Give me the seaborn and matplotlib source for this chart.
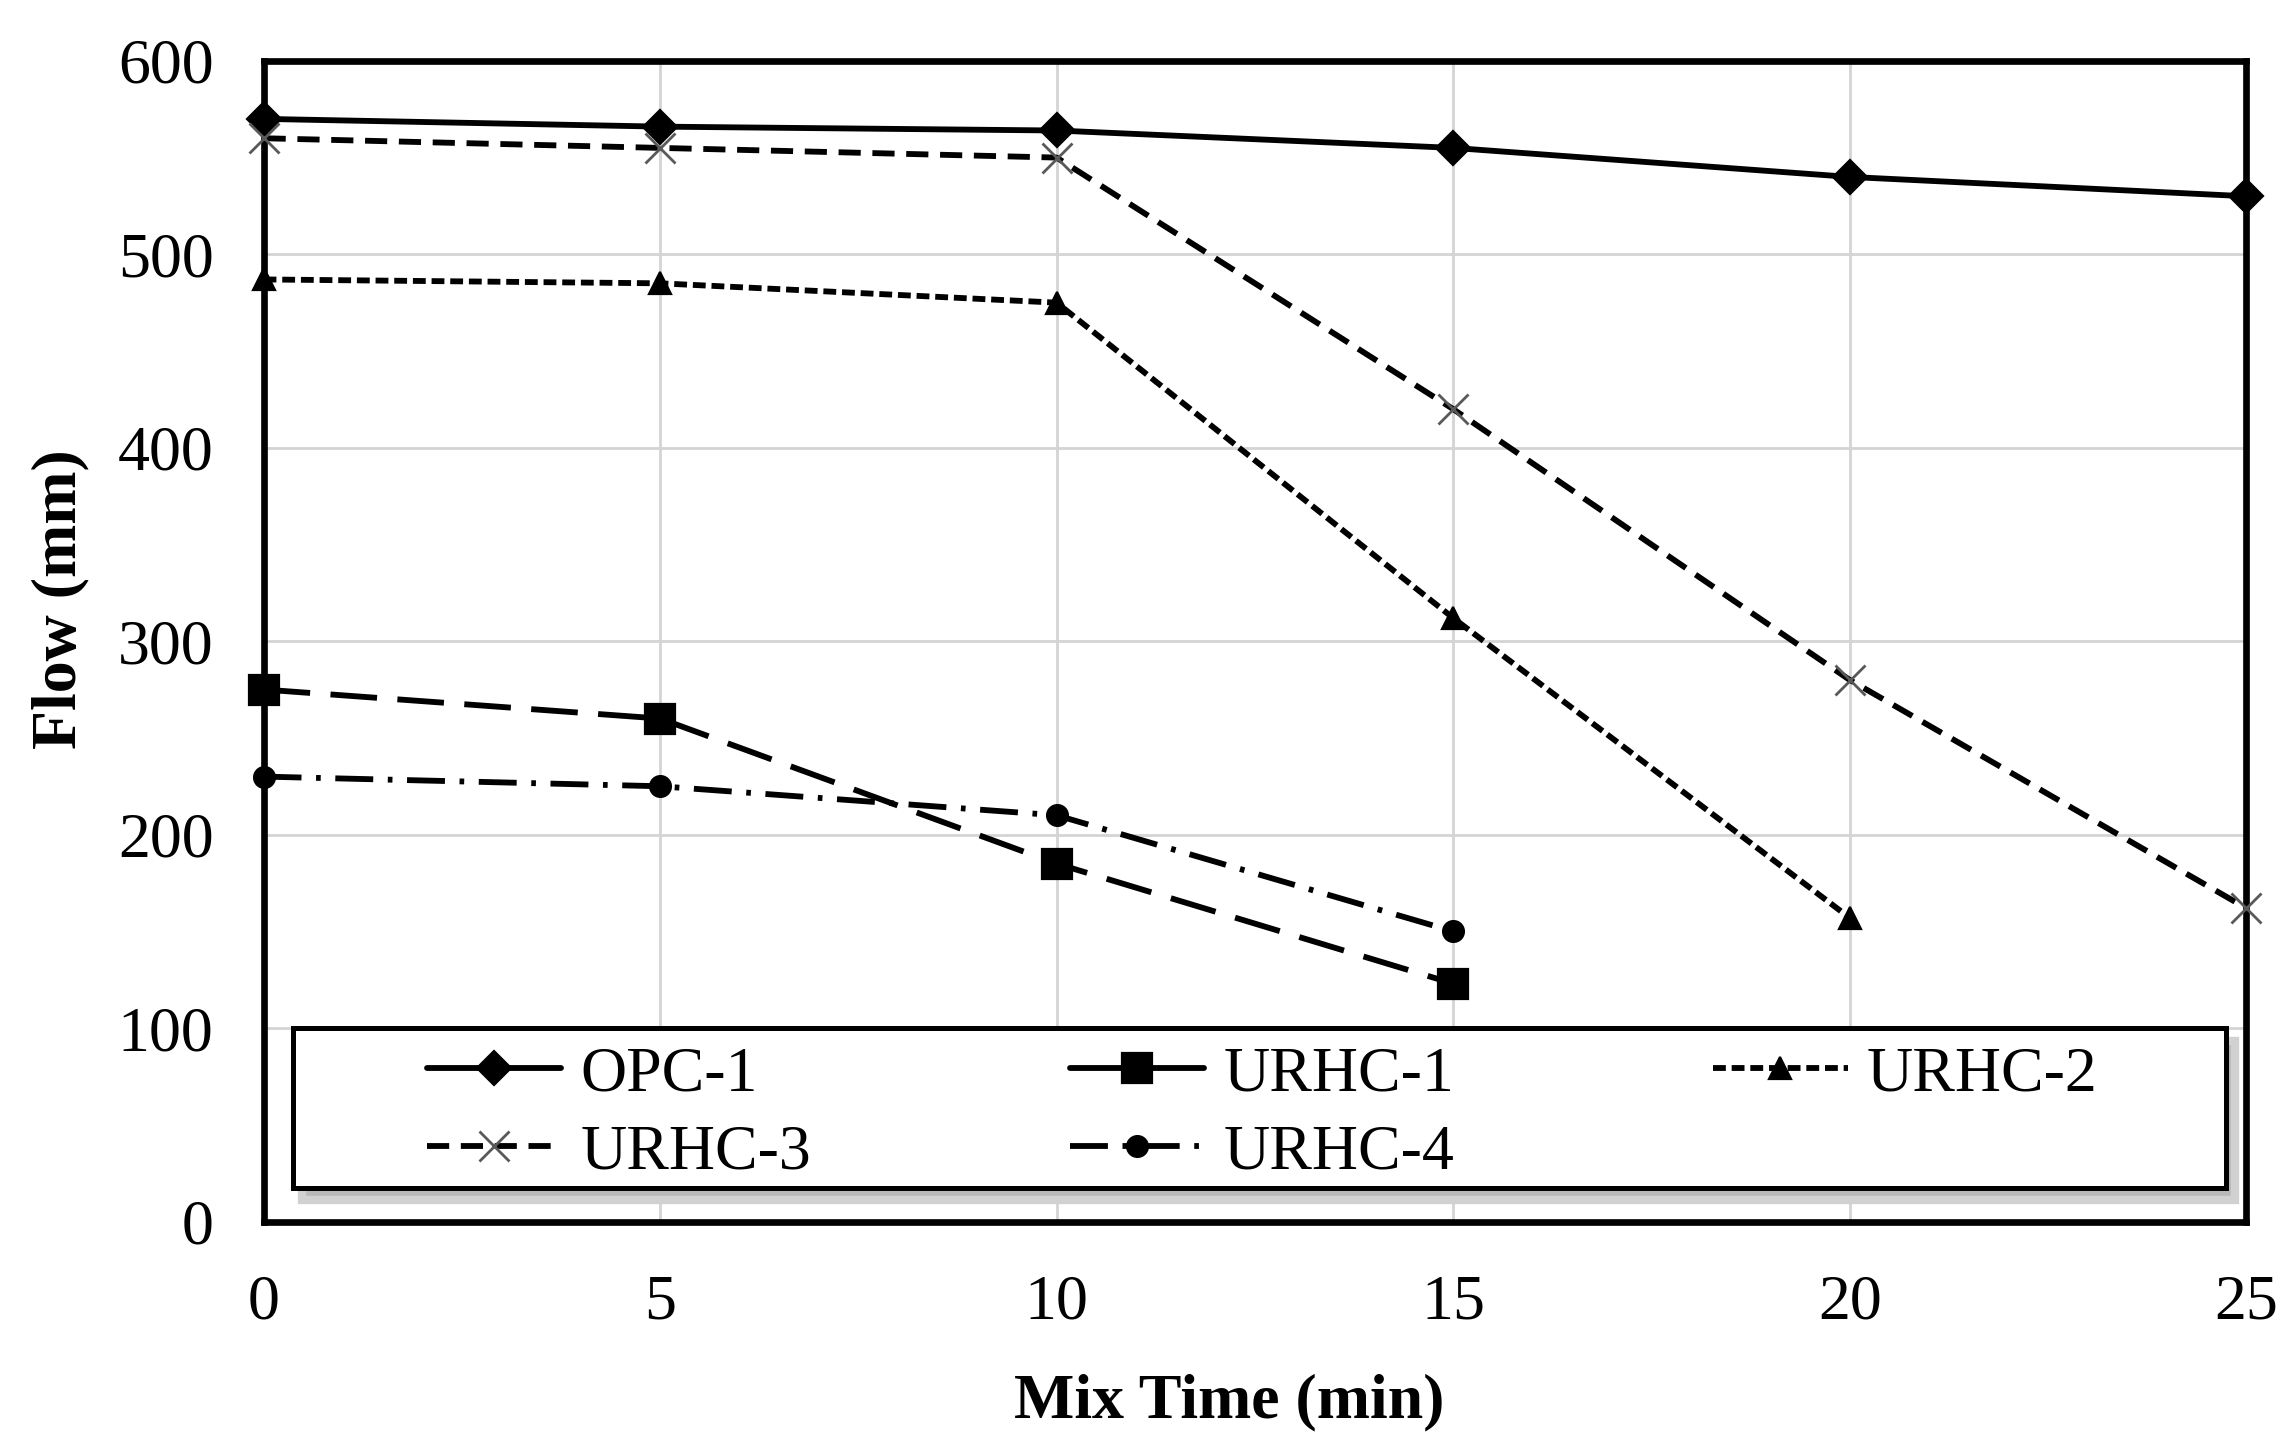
import numpy as np
import pandas as pd
import matplotlib.pyplot as plt
import seaborn as sns
from matplotlib.lines import Line2D
from matplotlib.patches import Rectangle
from matplotlib.transforms import offset_copy

mix_time = [0, 5, 10, 15, 20, 25]
opc_1 = [570, 566, 564, 555, 540, 530]
urhc_1 = [275, 260, 185, 123]
urhc_2 = [487, 485, 475, 312, 157]
urhc_3 = [560, 555, 550, 420, 280, 162]
urhc_4 = [230, 225, 210, 150]

series = {
    "OPC-1": opc_1,
    "URHC-1": urhc_1,
    "URHC-2": urhc_2,
    "URHC-3": urhc_3,
    "URHC-4": urhc_4,
}

# line / marker look for each mix
styles = {
    "OPC-1": dict(marker="D", markersize=8.5, linestyle="-"),
    "URHC-1": dict(marker="s", markersize=11, linestyle=(0, (8, 3.5))),
    "URHC-2": dict(marker="^", markersize=8, linestyle=(0, (2.2, 1.0))),
    "URHC-3": dict(marker="x", markersize=11, linestyle=(0, (3.8, 2.0)),
                   markeredgecolor="0.35", markeredgewidth=1.0),
    "URHC-4": dict(marker="o", markersize=7.5, linestyle=(0, (6.5, 2.5, 0.8, 2.5))),
}

sns.set_style("white")
plt.rcParams["font.family"] = ["Liberation Serif", "DejaVu Serif"]
plt.rcParams["text.color"] = "black"
plt.rcParams["axes.labelcolor"] = "black"

fig, ax = plt.subplots(figsize=(11.46, 7.245), dpi=200)
fig.subplots_adjust(left=0.115, right=0.980, top=0.958, bottom=0.157)

lines = {}
for name, vals in series.items():
    df = pd.DataFrame({"time": mix_time[:len(vals)], "flow": vals})
    kw = dict(styles[name])
    kw.setdefault("markeredgecolor", "black")
    kw.setdefault("markeredgewidth", 0.8)
    sns.lineplot(data=df, x="time", y="flow", ax=ax, color="black",
                 linewidth=2.1, markerfacecolor="black", label=name,
                 legend=False, clip_on=False, zorder=3, **kw)
    lines[name] = ax.get_lines()[-1]

ax.set_xlim(0, 25)
ax.set_ylim(0, 600)
ax.set_xticks(np.arange(0, 26, 5))
ax.set_yticks(np.arange(0, 601, 100))
ax.set_axisbelow(True)
ax.grid(True, color="#d4d4d4", linewidth=1.0)
for sp in ax.spines.values():
    sp.set_linewidth(2.4)
    sp.set_color("black")
ax.tick_params(direction="in", length=5, width=1.3, labelsize=23,
               colors="black")
ax.tick_params(axis="x", pad=19)
ax.tick_params(axis="y", pad=18)

ax.set_xlabel("Mix Time (min)", fontsize=23, fontweight="bold", color="black")
ax.set_ylabel("Flow (mm)", fontsize=23, fontweight="bold", color="black")
ax.xaxis.set_label_coords(0.487, -0.131)
ax.yaxis.set_label_coords(-0.088, 0.536)

# legend box with a drop shadow, drawn as in the Excel chart
box = (0.0147, 0.029)
box_w, box_h = 0.975, 0.1375
shadow_tr = offset_copy(ax.transAxes, fig=fig, x=3.5, y=-4.5, units="points")
shadow = Rectangle(box, box_w, box_h, transform=shadow_tr,
                   facecolor="0.72", edgecolor="0.82", linewidth=3,
                   zorder=3.9, clip_on=False)
frame = Rectangle(box, box_w, box_h, transform=ax.transAxes,
                  facecolor="white", edgecolor="black", linewidth=1.8,
                  zorder=4, clip_on=False)
ax.add_patch(shadow)
ax.add_patch(frame)

# the Excel legend shows URHC-1 with a solid stroke
legend_handles = {}
for name, ln in lines.items():
    h = Line2D([], [], color="black", linewidth=2.1,
               marker=ln.get_marker(), markersize=ln.get_markersize(),
               markerfacecolor="black",
               markeredgecolor=ln.get_markeredgecolor(),
               markeredgewidth=ln.get_markeredgewidth())
    if name not in ("OPC-1", "URHC-1"):
        h.set_dashes(styles[name]["linestyle"][1])
    legend_handles[name] = h

order = ["OPC-1", "URHC-3", "URHC-1", "URHC-4", "URHC-2"]
leg = ax.legend([legend_handles[n] for n in order], order, ncol=3,
                mode="expand", loc="lower left",
                bbox_to_anchor=(0.0825, 0.034, 0.8425, 0.122),
                borderaxespad=0, borderpad=0, fontsize=23, handlelength=2.1,
                handletextpad=0.3, labelspacing=0.3, frameon=False,
                labelcolor="black")
leg.set_zorder(5)

fig.savefig("out.png", dpi=200)
